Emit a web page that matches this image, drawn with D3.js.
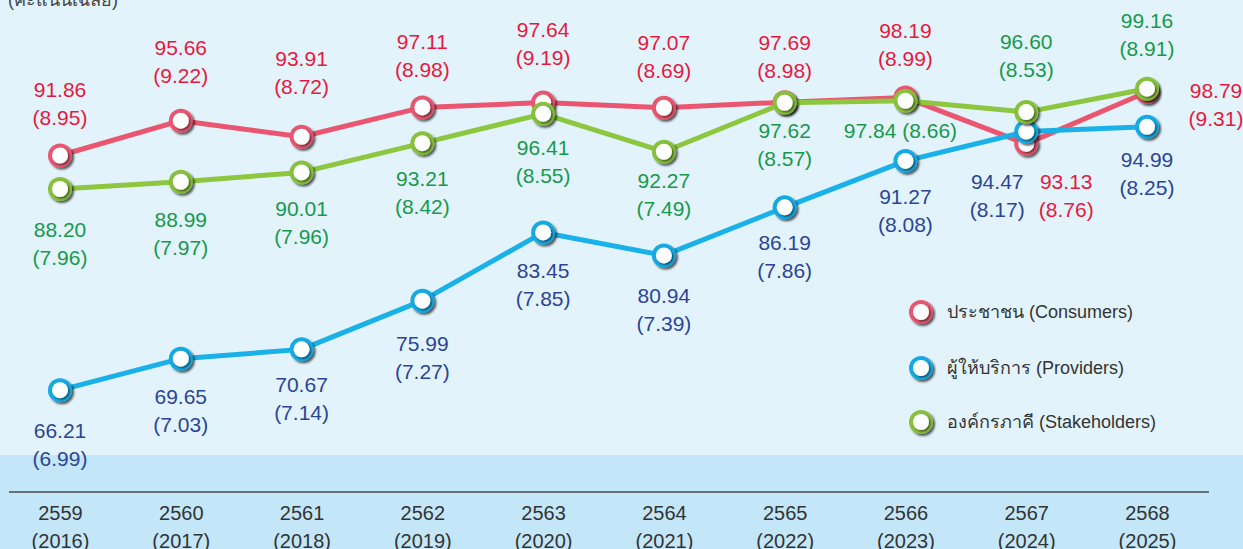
<!DOCTYPE html>
<html>
<head>
<meta charset="utf-8">
<script src="https://cdn.jsdelivr.net/npm/d3@7"></script>
<style>
  html, body { margin: 0; padding: 0; background: #e3f3fb; }
  svg { display: block; font-family: "Liberation Sans", Arial, "Noto Sans", sans-serif; }
</style>
</head>
<body>
<svg id="chart" width="1243" height="549"></svg>
<script>
// Years (Buddhist era / Gregorian)
const yearsBE = ["2559", "2560", "2561", "2562", "2563", "2564", "2565", "2566", "2567", "2568"];
const yearsCE = ["2016", "2017", "2018", "2019", "2020", "2021", "2022", "2023", "2024", "2025"];

// Satisfaction scores (percent) and the 10-point equivalent
const consumers      = [91.86, 95.66, 93.91, 97.11, 97.64, 97.07, 97.69, 98.19, 93.13, 98.79];
const consumersTen   = [8.95, 9.22, 8.72, 8.98, 9.19, 8.69, 8.98, 8.99, 8.76, 9.31];
const providers      = [66.21, 69.65, 70.67, 75.99, 83.45, 80.94, 86.19, 91.27, 94.47, 94.99];
const providersTen   = [6.99, 7.03, 7.14, 7.27, 7.85, 7.39, 7.86, 8.08, 8.17, 8.25];
const stakeholders   = [88.20, 88.99, 90.01, 93.21, 96.41, 92.27, 97.62, 97.84, 96.60, 99.16];
const stakeholdersTen= [7.96, 7.97, 7.96, 8.42, 8.55, 7.49, 8.57, 8.66, 8.53, 8.91];

const seriesNames = ["ประชาชน (Consumers)", "ผู้ให้บริการ (Providers)", "องค์กรภาคี (Stakeholders)"];
const unitLabel = "(คะแนนเฉลี่ย)";

// Label placement relative to each point: [dx, dy, inline]
const consumersLabelPos = [[0,-58],[0,-66],[0,-71],[0,-58],[0,-66],[0,-58],[0,-52],[0,-60],[40,45],[69,6]];
const providersLabelPos = [[0,48],[0,45],[0,43],[0,50],[0,46],[0,48],[0,43],[0,43],[-29,57],[0,40]];
const stakeholdersLabelPos = [[0,48],[0,45],[0,44],[0,43],[0,41],[0,36],[0,35],[-5,37,true],[0,-63],[0,-61]];

const W = 1243, H = 549;
const svg = d3.select("#chart");

const x = d3.scalePoint().domain(yearsBE).range([60, 1147]);
const y = d3.scaleLinear().domain([60, 100]).range([447, 81]);

// Background
svg.append("rect").attr("width", W).attr("height", H).attr("fill", "#e3f3fb");
svg.append("rect").attr("x", 0).attr("y", 455).attr("width", W).attr("height", H - 455).attr("fill", "#c3e7f8");

// Shadow filters for the point markers
const defs = svg.append("defs");
const f1 = defs.append("filter").attr("id", "ringShadow").attr("x", "-50%").attr("y", "-50%").attr("width", "200%").attr("height", "200%");
f1.append("feDropShadow").attr("dx", 2).attr("dy", 2).attr("stdDeviation", 1.2).attr("flood-color", "#000").attr("flood-opacity", 0.65);
const f2 = defs.append("filter").attr("id", "dotShadow").attr("x", "-50%").attr("y", "-50%").attr("width", "200%").attr("height", "200%");
f2.append("feDropShadow").attr("dx", 1.5).attr("dy", 1.5).attr("stdDeviation", 0.8).attr("flood-color", "#000").attr("flood-opacity", 0.55);

// Axis
const axis = d3.axisBottom(x).tickSize(0).tickPadding(0);
const axisG = svg.append("g").attr("transform", "translate(0,492)").call(axis);
axisG.select(".domain").remove();
axisG.append("line").attr("x1", 9).attr("x2", 1209).attr("y1", 0).attr("y2", 0)
  .attr("stroke", "#4a4a4a").attr("stroke-width", 1.6);
axisG.selectAll(".tick text").remove();
axisG.selectAll(".tick").each(function(d, i) {
  const g = d3.select(this);
  g.append("text").attr("text-anchor", "middle").attr("y", 28)
    .attr("font-size", 20).attr("fill", "#333").text(d);
  g.append("text").attr("text-anchor", "middle").attr("y", 56)
    .attr("font-size", 20).attr("fill", "#333").text("(" + yearsCE[i] + ")");
});

// Unit label
svg.append("text").attr("x", 8).attr("y", 6).attr("font-size", 18).attr("fill", "#444").text(unitLabel);

const series = [
  { values: consumers, ten: consumersTen, pos: consumersLabelPos, line: "#ea5670", ring: "#e8566f", text: "#e31a40" },
  { values: providers, ten: providersTen, pos: providersLabelPos, line: "#19b1e7", ring: "#16aae2", text: "#2b4592" },
  { values: stakeholders, ten: stakeholdersTen, pos: stakeholdersLabelPos, line: "#8dc63f", ring: "#87c13c", text: "#17994b" }
];

const lineGen = d3.line().x((d, i) => x(yearsBE[i])).y(d => y(d));

function drawMarker(g, cx, cy, color) {
  g.append("circle").attr("cx", cx).attr("cy", cy).attr("r", 12)
    .attr("fill", color).attr("filter", "url(#ringShadow)");
  g.append("circle").attr("cx", cx).attr("cy", cy).attr("r", 8)
    .attr("fill", "#fff").attr("filter", "url(#dotShadow)");
}

series.forEach(s => {
  const g = svg.append("g");
  g.append("path").datum(s.values).attr("d", lineGen)
    .attr("fill", "none").attr("stroke", s.line).attr("stroke-width", 5)
    .attr("stroke-linejoin", "round");
  s.values.forEach((v, i) => drawMarker(g, x(yearsBE[i]), y(v), s.ring));
});

// Value labels
series.forEach(s => {
  s.values.forEach((v, i) => {
    const [dx, dy, inline] = s.pos[i];
    const cx = x(yearsBE[i]) + dx;
    const by = y(v) + dy;
    if (inline) {
      svg.append("text").attr("x", cx).attr("y", by).attr("text-anchor", "middle")
        .attr("font-size", 21).attr("fill", s.text)
        .text(v.toFixed(2) + " (" + s.ten[i].toFixed(2) + ")");
    } else {
      svg.append("text").attr("x", cx).attr("y", by).attr("text-anchor", "middle")
        .attr("font-size", 21).attr("fill", s.text).text(v.toFixed(2));
      svg.append("text").attr("x", cx).attr("y", by + 28).attr("text-anchor", "middle")
        .attr("font-size", 21).attr("fill", s.text).text("(" + s.ten[i].toFixed(2) + ")");
    }
  });
});

// Legend
const legend = svg.append("g");
const legendY = [312, 368, 422];
series.forEach((s, i) => {
  drawMarker(legend, 921, legendY[i], s.ring);
  legend.append("text").attr("x", 947).attr("y", legendY[i] + 6)
    .attr("font-size", 18).attr("fill", "#333").text(seriesNames[i]);
});
</script>
</body>
</html>
